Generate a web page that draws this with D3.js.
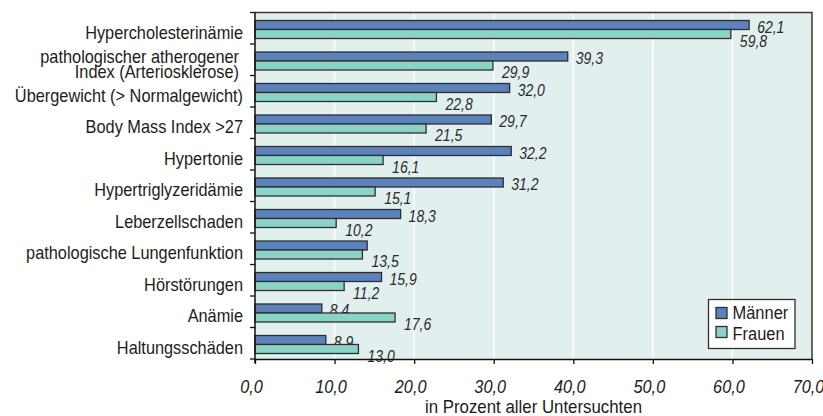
<!DOCTYPE html>
<html>
<head>
<meta charset="utf-8">
<script src="https://cdn.jsdelivr.net/npm/d3@7"></script>
<style>
  html, body { margin: 0; padding: 0; background: #ffffff; }
  svg { display: block; }
  text { font-family: "Liberation Sans", Arial, sans-serif; }
</style>
</head>
<body>
<svg id="chart" width="823" height="416"></svg>
<script>
// Befunde nach Geschlecht, in Prozent aller Untersuchten
const categories = [
  "Hypercholesterinämie",
  "pathologischer atherogener|Index (Arteriosklerose)",
  "Übergewicht (> Normalgewicht)",
  "Body Mass Index >27",
  "Hypertonie",
  "Hypertriglyzeridämie",
  "Leberzellschaden",
  "pathologische Lungenfunktion",
  "Hörstörungen",
  "Anämie",
  "Haltungsschäden"
];
const maenner = [62.1, 39.3, 32.0, 29.7, 32.2, 31.2, 18.3, 14.1, 15.9, 8.4, 8.9];
const frauen  = [59.8, 29.9, 22.8, 21.5, 16.1, 15.1, 10.2, 13.5, 11.2, 17.6, 13.0];
// value printed beside each bar (null = not printed)
const maennerLabels = ["62,1", "39,3", "32,0", "29,7", "32,2", "31,2", "18,3", null, "15,9", "8,4", "8,9"];
const frauenLabels  = ["59,8", "29,9", "22,8", "21,5", "16,1", "15,1", "10,2", "13,5", "11,2", "17,6", "13,0"];
const xTicks = [0, 10, 20, 30, 40, 50, 60, 70];
const seriesNames = ["Männer", "Frauen"];
const seriesColors = ["#5b82bb", "#8cd3c7"];
const axisTitle = "in Prozent aller Untersuchten";

const svg = d3.select("#chart");
const plotL = 255, plotR = 812, plotT = 12.5, plotB = 359;

// condensed look: place a text at (x, y) and squeeze it horizontally
function place(sel, px, py, sx) {
  sel.attr("x", 0).attr("y", 0)
     .attr("transform", `translate(${px},${py}) scale(${sx},1)`);
  return sel;
}

const x = d3.scaleLinear().domain([0, 70]).range([plotL, plotR]);
const y = d3.scaleBand().domain(categories).range([plotT, plotB]).padding(0);
const inner = d3.scaleBand().domain(seriesNames).range([8, 26]).padding(0);

// plot background
svg.append("rect")
  .attr("x", plotL).attr("y", plotT)
  .attr("width", plotR - plotL).attr("height", plotB - plotT)
  .attr("fill", "#e1f0ee");

// vertical grid lines
svg.append("g").selectAll("line")
  .data(xTicks.filter(t => t > 0 && t < 70))
  .join("line")
  .attr("x1", d => x(d)).attr("x2", d => x(d))
  .attr("y1", plotT).attr("y2", plotB)
  .attr("stroke", "#ffffff").attr("stroke-width", 1.5);

// frame: top and right
svg.append("path")
  .attr("d", `M${plotL},${plotT}H${plotR}V${plotB}`)
  .attr("fill", "none").attr("stroke", "#3a3a3a").attr("stroke-width", 1.5);

// bars
const rows = categories.map((c, i) => ({ c, i }));
const groups = svg.append("g").selectAll("g")
  .data(rows).join("g")
  .attr("transform", d => `translate(0,${y(d.c)})`);

const seriesVals = [maenner, frauen];
const seriesLbls = [maennerLabels, frauenLabels];
const labelShift = [3, 8];
const labelGap = [8, 9];

seriesNames.forEach((s, k) => {
  groups.append("rect")
    .attr("x", x(0))
    .attr("y", inner(s))
    .attr("width", d => x(seriesVals[k][d.i]) - x(0))
    .attr("height", inner.bandwidth())
    .attr("fill", seriesColors[k])
    .attr("stroke", "#2e2e2e").attr("stroke-width", 1.3);

  groups.filter(d => seriesLbls[k][d.i] !== null)
    .append("text")
    .attr("font-size", 16.3)
    .attr("font-style", "italic")
    .attr("fill", "#2a2a2a")
    .text(d => seriesLbls[k][d.i])
    .each(function(d) {
      place(d3.select(this), x(seriesVals[k][d.i]) + labelGap[k],
            inner(s) + inner.bandwidth() + labelShift[k], 0.86);
    });
});

// y axis with ticks between rows
const yAxisG = svg.append("g");
yAxisG.append("line")
  .attr("x1", plotL).attr("x2", plotL).attr("y1", plotT).attr("y2", plotB + 4)
  .attr("stroke", "#111").attr("stroke-width", 1.5);
yAxisG.selectAll("line.tick")
  .data(categories.concat([null]))
  .join("line").attr("class", "tick")
  .attr("x1", plotL - 5).attr("x2", plotL)
  .attr("y1", (d, i) => plotT + i * y.step())
  .attr("y2", (d, i) => plotT + i * y.step())
  .attr("stroke", "#111").attr("stroke-width", 1.3);

// category labels
yAxisG.selectAll("text.cat")
  .data(categories).join("text").attr("class", "cat")
  .attr("text-anchor", "end")
  .attr("font-size", 17.7)
  .attr("fill", "#1c1c1c")
  .each(function(d) {
    const parts = d.split("|");
    const t = d3.select(this);
    const cy = y(d) + y.bandwidth() / 2;
    if (parts.length === 1) {
      place(t, 243, cy + 10.3, 0.923).text(d);
    } else {
      place(t, 239, cy + 3.3, 0.923);
      parts.forEach((p, j) => {
        t.append("tspan").attr("x", 0).attr("y", j * 14.5).text(p);
      });
    }
  });

// x axis
const xAxis = d3.axisBottom(x).tickValues(xTicks)
  .tickFormat(d => d3.format(".1f")(d).replace(".", ","))
  .tickSize(5).tickSizeOuter(0);
const xg = svg.append("g").attr("transform", `translate(0,${plotB})`).call(xAxis);
xg.attr("font-family", null).attr("font-size", null);
xg.select(".domain").attr("stroke", "#111").attr("stroke-width", 1.5);
xg.selectAll(".tick line").attr("stroke", "#111").attr("stroke-width", 1.3);
xg.selectAll(".tick text")
  .attr("font-size", 17.7)
  .attr("font-style", "italic")
  .attr("fill", "#1c1c1c")
  .attr("dy", null)
  .attr("y", 0)
  .attr("transform", "translate(-4,33.5) scale(0.92,1)");

place(svg.append("text"), (plotL + plotR) / 2, 413, 0.92)
  .attr("text-anchor", "middle")
  .attr("font-size", 18.3)
  .attr("fill", "#1c1c1c")
  .text(axisTitle);

// legend
const lg = svg.append("g").attr("transform", "translate(708.5,299.5)");
lg.append("rect").attr("width", 86.5).attr("height", 49)
  .attr("fill", "#ffffff").attr("stroke", "#2e2e2e").attr("stroke-width", 1.3);
seriesNames.forEach((s, k) => {
  lg.append("rect")
    .attr("x", 7.5).attr("y", 8 + k * 19)
    .attr("width", 11).attr("height", 11)
    .attr("fill", seriesColors[k]).attr("stroke", "#2e2e2e").attr("stroke-width", 1.3);
  place(lg.append("text"), 24, 19.5 + k * 21, 0.9)
    .attr("font-size", 18.3).attr("fill", "#1c1c1c")
    .text(s);
});
</script>
</body>
</html>
